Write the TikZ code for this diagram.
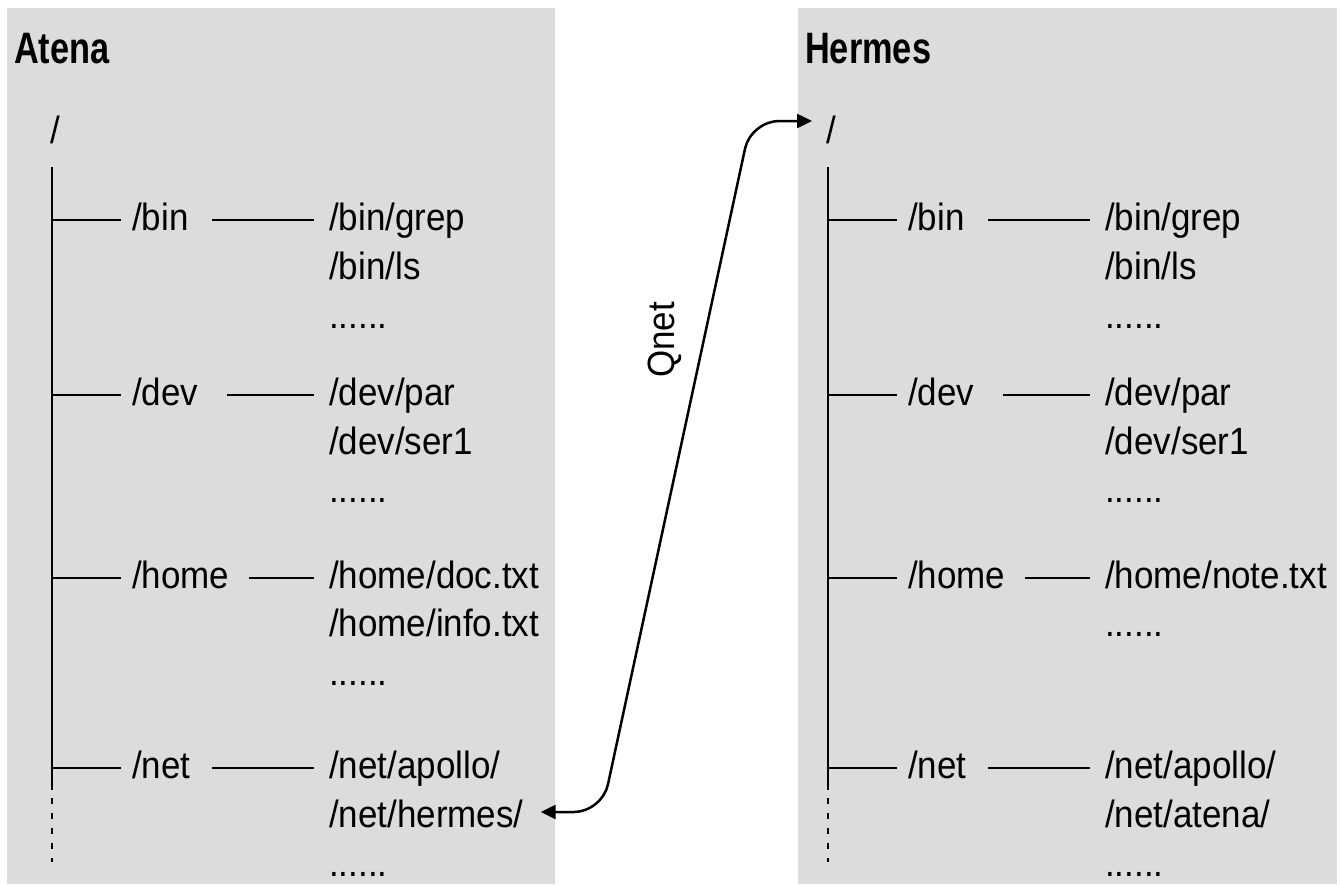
\documentclass[tikz,border=0pt]{standalone}
\usepackage{fontspec}
\setmainfont{Liberation Sans}
\newfontfamily\bodyfont{Liberation Sans}[FakeStretch=0.92]
\newfontfamily\titlefont{Liberation Sans Bold}[FakeStretch=0.78]
\usetikzlibrary{arrows.meta}
\definecolor{panelgray}{RGB}{220,220,220}
\tikzset{
  panel/.style={fill=panelgray, draw=none},
  title/.style={font=\titlefont\fontsize{44}{52}\selectfont, anchor=base west, inner sep=0pt},
  entry/.style={font=\bodyfont\fontsize{38}{46}\selectfont, anchor=base west, inner sep=0pt},
  tree/.style={line width=2pt, draw=black},
  trail/.style={dash pattern=on 6pt off 9pt},
  link/.style={line width=2.5pt, rounded corners=28pt,
    {Triangle[length=15pt,width=14pt]}-{Triangle[length=15pt,width=14pt]}},
}
\begin{document}
\begin{tikzpicture}[x=1pt,y=-1pt]
\useasboundingbox (0,0) rectangle (1342,884);

% the two machines
\fill[panel] (7,8) rectangle (555,884);
\fill[panel] (798,8) rectangle (1337,884);
\node[title] (atena) at (14,63) {Atena};
\node[title] (hermes) at (805,63) {Hermes};

% root, trunk and first-level directories of each tree
\foreach \p/\dx in {a/0,h/776}{
  \node[entry] (\p-root) at (50+\dx,143) {/};
  \coordinate (\p-top) at (52+\dx,167);
  \coordinate (\p-solid) at (52+\dx,790);
  \coordinate (\p-dash) at (52+\dx,798);
  \coordinate (\p-end) at (52+\dx,862);
  \draw[tree] (\p-top) -- (\p-solid);
  \draw[tree,trail] (\p-dash) -- (\p-end);
  \foreach \n/\b/\s in {bin/230/212,dev/405/227,home/588/249,net/778/212}{
    \node[entry] (\p-\n) at (132+\dx,\b) {/\n};
    \coordinate (\p-\n-row) at (52+\dx,\b-10);
    \coordinate (\p-\n-sub) at (\s+\dx,\b-10);
  }
}

% Atena: directory contents
\node[entry] (a-bin-1) at (329,230) {/bin/grep};
\node[entry] (a-bin-2) at (329,279) {/bin/ls};
\node[entry] (a-bin-3) at (329,328) {......};
\node[entry] (a-dev-1) at (329,405) {/dev/par};
\node[entry] (a-dev-2) at (329,454) {/dev/ser1};
\node[entry] (a-dev-3) at (329,502) {......};
\node[entry] (a-home-1) at (329,588) {/home/doc.txt};
\node[entry] (a-home-2) at (329,636) {/home/info.txt};
\node[entry] (a-home-3) at (329,685) {......};
\node[entry] (a-net-1) at (329,778) {/net/apollo/};
\node[entry] (a-net-2) at (329,827) {/net/hermes/};
\node[entry] (a-net-3) at (329,876) {......};

% Hermes: directory contents
\node[entry] (h-bin-1) at (1105,230) {/bin/grep};
\node[entry] (h-bin-2) at (1105,279) {/bin/ls};
\node[entry] (h-bin-3) at (1105,328) {......};
\node[entry] (h-dev-1) at (1105,405) {/dev/par};
\node[entry] (h-dev-2) at (1105,454) {/dev/ser1};
\node[entry] (h-dev-3) at (1105,502) {......};
\node[entry] (h-home-1) at (1105,588) {/home/note.txt};
\node[entry] (h-home-2) at (1105,636) {......};
\node[entry] (h-net-1) at (1105,778) {/net/apollo/};
\node[entry] (h-net-2) at (1105,827) {/net/atena/};
\node[entry] (h-net-3) at (1105,876) {......};

% branches
\foreach \p in {a,h}{
  \foreach \n in {bin,dev,home,net}{
    \draw[tree, shorten >=11pt] (\p-\n-row) -- (\p-\n.west |- \p-\n-row);
    \draw[tree, shorten >=15pt] (\p-\n-sub) -- (\p-\n-1.west |- \p-\n-row);
  }
}

% Qnet mount: /net/hermes/ on Atena leads to the root of Hermes
\coordinate (q-start) at ([xshift=17pt]a-net-2.east);
\coordinate (q-stop) at ([xshift=-14pt]h-root.west);
\coordinate (q-low) at (602,812);
\coordinate (q-high) at (751,121);
\draw[link] (q-start |- q-low) -- (q-low) -- (q-high) -- (q-stop |- q-high);
\node[entry, anchor=center, rotate=90] (qnet) at (665,340) {Qnet};
\end{tikzpicture}
\end{document}
